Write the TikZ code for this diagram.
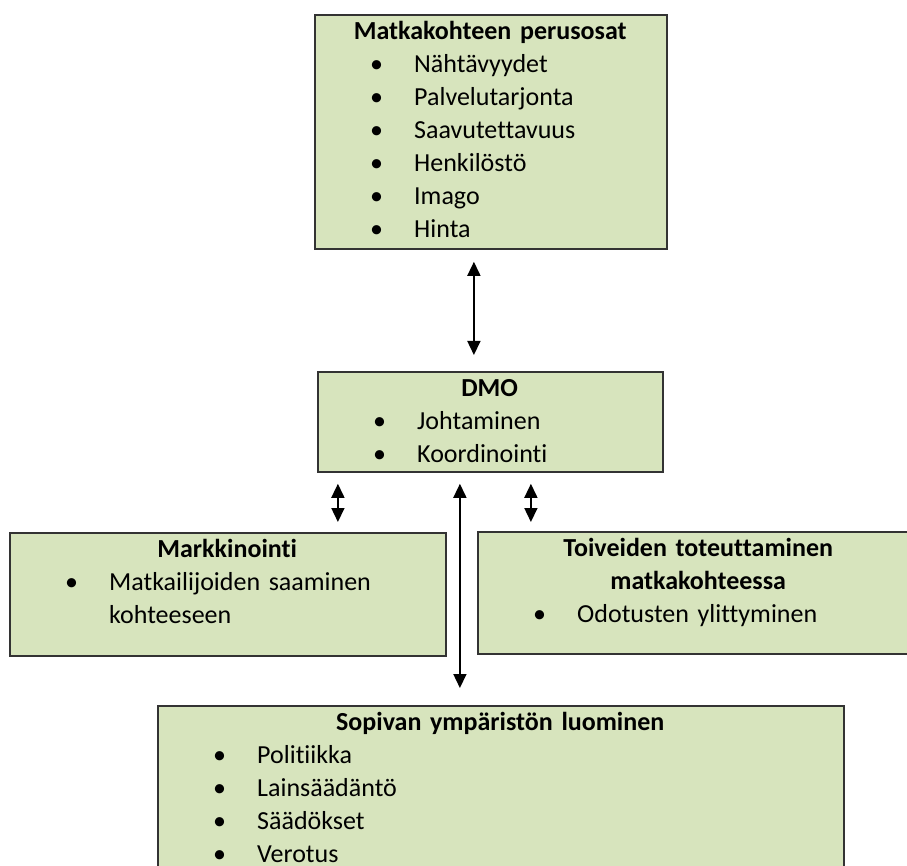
\documentclass[tikz,border=0pt]{standalone}
\usepackage{fontspec}
\setmainfont{Carlito}[Ligatures=NoCommon]
\usepackage{xcolor}
\usetikzlibrary{positioning}
\usetikzlibrary{arrows.meta}

\definecolor{vihrea}{RGB}{215,228,189}

\newcommand{\otsikko}[1]{\par{\centering\bfseries\rule{0pt}{24pt}#1\par}}
\newcommand{\kohta}[1]{\par\noindent\makebox[100pt][l]{\hspace*{56pt}\textbullet}#1}
\newcommand{\jatko}[1]{\par\noindent\hspace*{100pt}#1}

\tikzset{
  laatikko/.style={draw=black!80, fill=vihrea, line width=1.8pt, inner sep=0pt, anchor=north west},
  teksti/.style={inner sep=0pt, anchor=north west, yshift=8pt, text width=#1, font=\fontsize{26}{33}\selectfont},
  kaksisuunta/.style={{Triangle[length=14pt,width=13pt]}-{Triangle[length=14pt,width=13pt]}, line width=1.6pt}
}

\begin{document}
\begin{tikzpicture}[x=1pt,y=-1pt]
\clip (0,0) rectangle (907,866);

% laatikot
\node[laatikko, minimum width=352pt, minimum height=234pt] (perusosat) at (314,14) {};
\node[laatikko, minimum width=345pt, minimum height=100pt] (dmo) at (317,371) {};
\node[laatikko, minimum width=436pt, minimum height=123pt] (markkinointi) at (9,532) {};
\node[laatikko, minimum width=442pt, minimum height=122pt] (toiveet) at (477,531) {};
\node[laatikko, minimum width=686pt, minimum height=190pt] (ymparisto) at (157,705) {};

% tekstit
\node[teksti=352pt] (perusosat-t) at (perusosat.north west) {%
  \otsikko{Matkakohteen perusosat}
  \kohta{Nähtävyydet}
  \kohta{Palvelutarjonta}
  \kohta{Saavutettavuus}
  \kohta{Henkilöstö}
  \kohta{Imago}
  \kohta{Hinta}};
\node[teksti=345pt] (dmo-t) at (dmo.north west) {%
  \otsikko{DMO}
  \kohta{Johtaminen}
  \kohta{Koordinointi}};
\node[teksti=436pt] (markkinointi-t) at (markkinointi.north west) {%
  \otsikko{Markkinointi}
  \kohta{Matkailijoiden saaminen}
  \jatko{kohteeseen}};
\node[teksti=442pt] (toiveet-t) at (toiveet.north west) {%
  \otsikko{Toiveiden toteuttaminen\\ matkakohteessa}
  \kohta{Odotusten ylittyminen}};
\node[teksti=686pt] (ymparisto-t) at (ymparisto.north west) {%
  \otsikko{Sopivan ympäristön luominen}
  \kohta{Politiikka}
  \kohta{Lainsäädäntö}
  \kohta{Säädökset}
  \kohta{Verotus}};

% nuolet
\draw[kaksisuunta] ([xshift=-17pt,yshift=-12pt]perusosat.south) -- ([xshift=-16.5pt,yshift=16pt]dmo.north);
\draw[kaksisuunta] ([xshift=-152.5pt,yshift=-11pt]dmo.south) -- ([xshift=110pt,yshift=10pt]markkinointi.north);
\draw[kaksisuunta] ([xshift=40.5pt,yshift=-11pt]dmo.south) -- ([xshift=-168pt,yshift=9pt]toiveet.north);
\draw[kaksisuunta] ([xshift=-30.5pt,yshift=-11pt]dmo.south) -- ([xshift=-41pt,yshift=17pt]ymparisto.north);

\end{tikzpicture}
\end{document}
